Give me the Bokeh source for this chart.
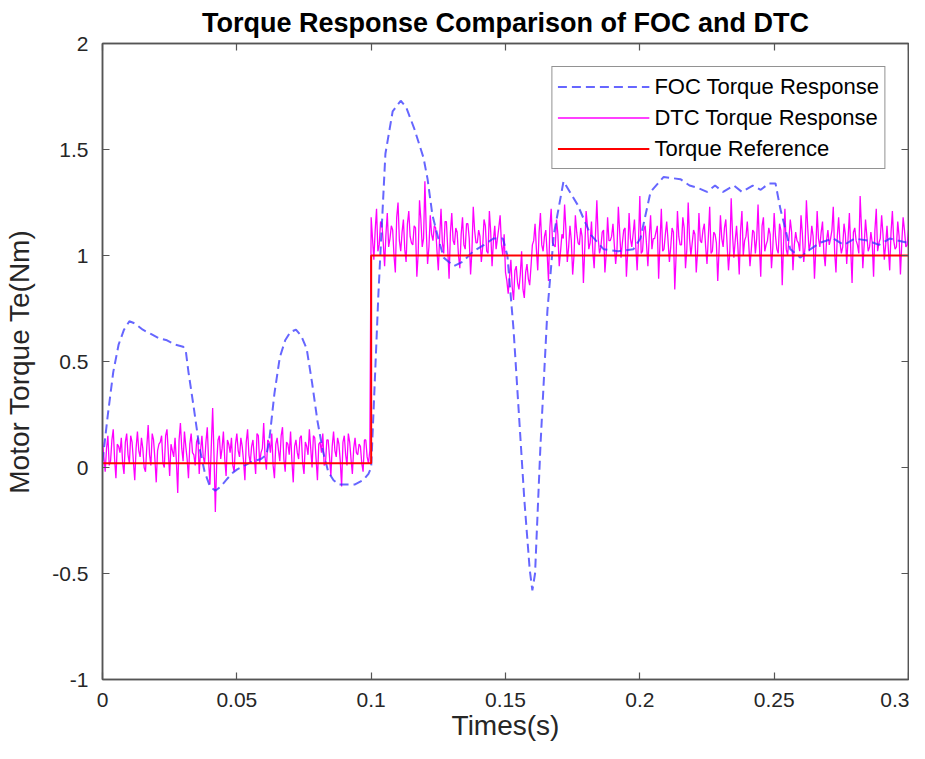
import numpy as np
from bokeh.plotting import figure
from bokeh.models import Range1d, LinearAxis, FixedTicker, Legend, LegendItem
from bokeh.embed import file_html
from bokeh.resources import INLINE

# ---------------- data ----------------
x_ticks = [0, 0.05, 0.1, 0.15, 0.2, 0.25, 0.3]
x_tick_labels = ["0", "0.05", "0.1", "0.15", "0.2", "0.25", "0.3"]
y_ticks = [-1, -0.5, 0, 0.5, 1, 1.5, 2]
y_tick_labels = ["-1", "-0.5", "0", "0.5", "1", "1.5", "2"]

# FOC torque response
foc_t = [0.000, 0.002, 0.004, 0.006, 0.008, 0.010, 0.012, 0.015, 0.018, 0.021,
         0.024, 0.027, 0.030, 0.031, 0.032, 0.034, 0.036, 0.038, 0.040, 0.042,
         0.044, 0.046, 0.048, 0.050, 0.053, 0.056, 0.059, 0.061, 0.062, 0.064,
         0.066, 0.068, 0.070, 0.072, 0.074, 0.076, 0.078, 0.080, 0.082, 0.084,
         0.086, 0.088, 0.091, 0.094, 0.097, 0.099, 0.100, 0.101, 0.1027, 0.1053,
         0.108, 0.111, 0.113, 0.116, 0.1195, 0.121, 0.1228, 0.125, 0.127, 0.1307,
         0.134, 0.138, 0.142, 0.1455, 0.149, 0.1507, 0.153, 0.155, 0.157, 0.159,
         0.160, 0.161, 0.163, 0.1656, 0.168, 0.1716, 0.1768, 0.1816, 0.1865, 0.192,
         0.1976, 0.2002, 0.204, 0.2088, 0.2151, 0.2185, 0.2214, 0.225, 0.228, 0.231,
         0.235, 0.238, 0.242, 0.245, 0.248, 0.2505, 0.2523, 0.256, 0.2598, 0.2624,
         0.267, 0.272, 0.276, 0.280, 0.285, 0.289, 0.293, 0.2996]
foc_v = [0.03, 0.25, 0.45, 0.58, 0.65, 0.69, 0.68, 0.65, 0.63, 0.61,
         0.60, 0.58, 0.57, 0.55, 0.45, 0.28, 0.10, -0.02, -0.09, -0.11,
         -0.09, -0.06, -0.03, -0.01, 0.01, 0.03, 0.04, 0.06, 0.12, 0.35,
         0.52, 0.60, 0.64, 0.65, 0.62, 0.56, 0.40, 0.22, 0.08, -0.02,
         -0.06, -0.08, -0.08, -0.08, -0.06, -0.03, 0.00, 0.30, 0.82, 1.48,
         1.68, 1.73, 1.70, 1.60, 1.46, 1.36, 1.19, 1.08, 0.99, 0.95,
         0.97, 1.02, 1.05, 1.08, 1.08, 1.00, 0.65, 0.25, -0.15, -0.48,
         -0.58, -0.50, 0.10, 0.74, 1.10, 1.35, 1.24, 1.10, 1.03, 1.02,
         1.03, 1.08, 1.30, 1.37, 1.36, 1.33, 1.32, 1.30, 1.33, 1.30,
         1.33, 1.30, 1.33, 1.31, 1.34, 1.34, 1.22, 1.03, 0.99, 1.02,
         1.06, 1.08, 1.05, 1.08, 1.07, 1.05, 1.08, 1.06]

# DTC torque response: samples on whole milliseconds (0 .. 0.300 s)
dtc_v_ms = [
    0.12, -0.02, 0.15, 0.03, 0.18, -0.05, 0.10, 0.14, -0.03, 0.16,
    0.02, 0.12, -0.06, 0.17, 0.05, 0.09, -0.02, 0.20, 0.01, 0.13,
    -0.07, 0.11, 0.15, 0.00, 0.18, -0.04, 0.08, 0.14, -0.12, 0.21,
    0.03, 0.10, -0.05, 0.16, 0.06, 0.12, -0.03, 0.15, 0.02, 0.19,
    -0.08, 0.28, -0.21, 0.13, 0.04, 0.17, -0.04, 0.11, 0.14, -0.02,
    0.16, 0.05, 0.10, -0.06, 0.18, 0.02, 0.13, -0.03, 0.15, 0.07,
    0.21, -0.01, 0.12, 0.16, -0.05, 0.14, 0.03, 0.19, -0.02, 0.11,
    0.17, -0.07, 0.13, 0.04, 0.15, -0.03, 0.10, 0.18, 0.00, 0.14,
    -0.06, 0.12, 0.16, 0.02, 0.13, -0.04, 0.17, 0.05, 0.11, -0.09,
    0.15, 0.01, 0.12, -0.03, 0.14, 0.06, 0.10, -0.02, 0.13, 0.02,
    1.18, 0.98, 1.22, 1.05, 1.15, 0.95, 1.20, 1.08, 1.12, 0.92,
    1.25, 1.02, 1.17, 0.97, 1.21, 1.06, 1.14, 0.90, 1.26, 1.04,
    1.35, 0.96, 1.19, 1.07, 1.13, 0.93, 1.22, 1.01, 1.16, 0.89,
    1.20, 1.05, 1.11, 0.94, 1.18, 1.03, 1.15, 0.91, 1.23, 1.06,
    1.12, 0.97, 1.17, 1.02, 1.21, 0.95, 1.14, 1.08, 1.19, 1.00,
    0.92, 0.82, 0.98, 0.79, 0.95, 0.84, 1.02, 0.80, 0.96, 0.86, 1.05,
    1.15, 0.93, 1.20, 1.02, 1.12, 0.88, 1.22, 1.05, 1.17, 0.95,
    1.10, 1.24, 0.97, 1.14, 0.91, 1.19, 1.06, 1.13, 0.87, 1.21,
    1.03, 1.16, 0.94, 1.26, 1.01, 1.11, 0.92, 1.18, 1.07, 1.15,
    0.96, 1.23, 0.99, 1.12, 0.90, 1.20, 1.04, 1.17, 0.93, 1.28,
    1.02, 1.14, 0.95, 1.19, 1.08, 1.11, 0.89, 1.22, 1.03, 1.16,
    0.97, 1.13, 0.84, 1.21, 1.05, 1.18, 0.94, 1.25, 1.00, 1.12,
    0.92, 1.20, 1.06, 1.15, 0.96, 1.23, 1.02, 1.10, 0.88, 1.19,
    1.04, 1.17, 0.93, 1.27, 0.99, 1.14, 0.91, 1.21, 1.07, 1.16,
    0.95, 1.12, 1.01, 1.24, 0.90, 1.18, 1.05, 1.13, 0.94, 1.20,
    1.03, 1.15, 0.86, 1.22, 1.00, 1.17, 0.93, 1.11, 1.06, 1.19,
    0.97, 1.26, 1.02, 1.14, 0.89, 1.21, 1.04, 1.16, 0.95, 1.12,
    1.08, 1.23, 0.92, 1.18, 1.01, 1.15, 0.96, 1.20, 0.87, 1.13,
    1.05, 1.28, 0.94, 1.17, 1.02, 1.11, 0.90, 1.22, 1.06, 1.19,
    0.98, 1.14, 0.93, 1.21, 1.03, 1.16, 0.91, 1.18, 1.04, 1.12,
]
# DTC torque response: samples half-way between milliseconds (0.0005 .. 0.2995 s)
dtc_v_half = [
    0.05, 0.09, 0.01, 0.13, 0.04, 0.11, 0.07, 0.02, 0.12, 0.06,
    0.15, 0.03, 0.09, 0.08, 0.14, 0.00, 0.10, 0.06, 0.16, 0.04,
    0.08, 0.12, 0.02, 0.15, 0.07, 0.11, 0.05, 0.03, 0.13, 0.09,
    0.17, 0.04, 0.11, 0.07, 0.01, 0.14, 0.08, 0.05, 0.12, 0.03,
    0.10, 0.06, 0.02, 0.15, 0.09, 0.04, 0.13, 0.07, 0.01, 0.11,
    0.08, 0.14, 0.03, 0.12, 0.06, 0.10, 0.05, 0.16, 0.02, 0.09,
    0.05, 0.13, 0.07, 0.01, 0.11, 0.08, 0.15, 0.04, 0.12, 0.06,
    0.03, 0.10, 0.07, 0.14, 0.02, 0.12, 0.06, 0.09, 0.15, 0.04,
    0.11, 0.07, 0.01, 0.13, 0.05, 0.10, 0.08, 0.14, 0.03, 0.12,
    0.06, 0.16, 0.04, 0.09, 0.07, 0.11, 0.02, 0.13, 0.05, 0.08,
    1.08, 1.12, 1.02, 1.16, 1.06, 1.10, 1.04, 1.14, 1.00, 1.18,
    1.07, 1.11, 1.03, 1.15, 1.09, 1.05, 1.13, 1.01, 1.17, 1.08,
    1.12, 1.04, 1.10, 1.14, 1.02, 1.09, 1.06, 1.16, 1.03, 1.11,
    1.07, 1.13, 1.00, 1.10, 1.05, 1.15, 1.08, 1.02, 1.12, 1.06,
    1.09, 1.04, 1.14, 1.01, 1.11, 1.07, 1.03, 1.13, 1.05, 1.10,
    0.88, 0.90, 0.85, 0.93, 0.87, 0.91, 0.84, 0.92, 0.89, 0.95,
    1.07, 1.03, 1.11, 1.05, 1.09, 1.01, 1.13, 1.06, 1.04, 1.10,
    1.02, 1.08, 1.12, 1.04, 1.07, 1.00, 1.11, 1.05, 1.09, 1.03,
    1.14, 1.06, 1.02, 1.10, 1.08, 1.04, 1.12, 1.01, 1.07, 1.09,
    1.05, 1.03, 1.11, 1.06, 1.13, 1.02, 1.08, 1.10, 1.04, 1.07,
    1.01, 1.12, 1.05, 1.09, 1.03, 1.08, 1.14, 1.06, 1.02, 1.10,
    1.07, 1.04, 1.11, 1.00, 1.09, 1.05, 1.13, 1.03, 1.08, 1.06,
    1.10, 1.02, 1.07, 1.12, 1.04, 1.09, 1.01, 1.11, 1.06, 1.03,
    1.08, 1.13, 1.05, 1.02, 1.10, 1.07, 1.04, 1.12, 1.00, 1.09,
    1.06, 1.03, 1.11, 1.08, 1.05, 1.14, 1.02, 1.07, 1.10, 1.04,
    1.09, 1.01, 1.12, 1.06, 1.03, 1.08, 1.11, 1.05, 1.07, 1.02,
    1.10, 1.04, 1.13, 1.06, 1.09, 1.03, 1.08, 1.11, 1.01, 1.07,
    1.05, 1.12, 1.02, 1.09, 1.06, 1.04, 1.10, 1.08, 1.03, 1.11,
    1.07, 1.01, 1.13, 1.05, 1.09, 1.04, 1.06, 1.12, 1.02, 1.08,
    1.10, 1.05, 1.03, 1.11, 1.07, 1.04, 1.09, 1.06, 1.12, 1.05,
]
# interleave the two sample sets in time order
dtc_t, dtc_v = [], []
for i, v in enumerate(dtc_v_ms):
    dtc_t.append(round(i * 0.001, 4))
    dtc_v.append(v)
    if i < len(dtc_v_half):
        dtc_t.append(round(i * 0.001 + 0.0005, 4))
        dtc_v.append(dtc_v_half[i])

# Torque reference (step)
ref_t = [0.0, 0.1, 0.1, 0.3]
ref_v = [0.02, 0.02, 1.0, 1.0]

# ---------------- figure ----------------
FONT = "Liberation Sans"
AX_COLOR = "#555555"
TXT_COLOR = "#262626"

p = figure(width=909, height=743, output_backend="svg", toolbar_location=None,
           x_range=Range1d(0, 0.3), y_range=Range1d(-1, 2),
           min_border_left=102, min_border_right=1, min_border_top=42, min_border_bottom=64,
           background_fill_color="white", border_fill_color="white")
p.grid.visible = False
p.outline_line_color = AX_COLOR
p.outline_line_width = 1.5

p.title.text = "Torque Response Comparison of FOC and DTC"
p.title.text_font = FONT
p.title.text_font_size = "27px"
p.title.text_font_style = "bold"
p.title.text_color = "black"
p.title.align = "center"
p.title.offset = 0
p.title.standoff = 11

def style_axis(ax):
    ax.axis_line_color = AX_COLOR
    ax.axis_line_width = 1.5
    ax.major_tick_line_color = AX_COLOR
    ax.major_tick_line_width = 1.2
    ax.major_tick_in = 7
    ax.major_tick_out = 0
    ax.minor_tick_in = 0
    ax.minor_tick_out = 0
    ax.major_label_text_font = FONT
    ax.major_label_text_font_size = "21px"
    ax.major_label_text_color = TXT_COLOR
    ax.axis_label_text_font = FONT
    ax.axis_label_text_font_size = "28px"
    ax.axis_label_text_font_style = "normal"
    ax.axis_label_text_color = TXT_COLOR

xa = p.xaxis[0]
xa.ticker = FixedTicker(ticks=x_ticks)
xa.major_label_overrides = {t: l for t, l in zip(x_ticks, x_tick_labels)}
xa.axis_label = "Times(s)"
style_axis(xa)
xa.major_label_standoff = 13
xa.axis_label_standoff = 0

ya = p.yaxis[0]
ya.ticker = FixedTicker(ticks=y_ticks)
ya.major_label_overrides = {t: l for t, l in zip(y_ticks, y_tick_labels)}
ya.axis_label = "Motor Torque Te(Nm)"
style_axis(ya)
ya.major_label_standoff = 14
ya.axis_label_standoff = 14

# box axes (ticks only) on top and right
top_ax = LinearAxis(ticker=FixedTicker(ticks=x_ticks),
                    major_label_overrides={t: "" for t in x_ticks})
style_axis(top_ax)
top_ax.major_label_standoff = 0
p.add_layout(top_ax, "above")
right_ax = LinearAxis(ticker=FixedTicker(ticks=y_ticks),
                      major_label_overrides={t: "" for t in y_ticks})
style_axis(right_ax)
right_ax.major_label_standoff = 0
p.add_layout(right_ax, "right")

r_dtc = p.line(dtc_t, dtc_v, line_color="#ff00ff", line_width=1.3)
r_foc = p.line(foc_t, foc_v, line_color="#3333ff", line_alpha=0.75, line_width=2,
               line_dash="9 5")
r_ref = p.line(ref_t, ref_v, line_color="#ff0000", line_width=2)

legend = Legend(items=[LegendItem(label="FOC Torque Response", renderers=[r_foc]),
                       LegendItem(label="DTC Torque Response", renderers=[r_dtc]),
                       LegendItem(label="Torque Reference", renderers=[r_ref])],
                location="top_right")
legend.margin = 23
legend.padding = 5
legend.spacing = 2
legend.glyph_width = 92
legend.glyph_height = 29
legend.label_height = 29
legend.label_standoff = 5
legend.label_text_font = FONT
legend.label_text_font_size = "22px"
legend.label_text_color = "black"
legend.border_line_color = "#262626"
legend.border_line_width = 1.2
legend.background_fill_color = "white"
legend.background_fill_alpha = 1.0
p.add_layout(legend)

open("out.html", "w").write(file_html(p, INLINE))
